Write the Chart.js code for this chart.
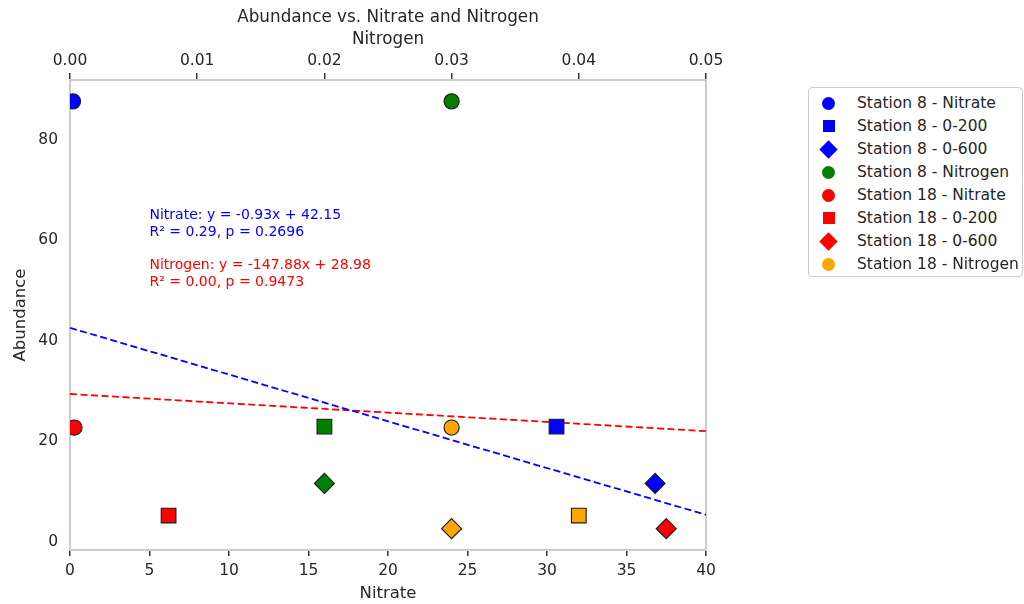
<!DOCTYPE html>
<html>
<head>
<meta charset="utf-8">
<script src="https://cdn.jsdelivr.net/npm/chart.js@4.4.1/dist/chart.umd.min.js"></script>
<style>
  html, body { margin: 0; padding: 0; background: #fff; }
  #wrap { position: relative; width: 1024px; height: 604px; font-family: "DejaVu Sans", sans-serif; }
  #wrap canvas { position: absolute; left: 0; top: 0; }
  #legend {
    position: absolute; left: 808px; top: 87px; width: 215px; height: 190px;
    border: 1px solid #cccccc; border-radius: 4px; background: #fff; box-sizing: border-box;
    color: #262626; font-size: 15.5px;
  }
  .row { position: absolute; left: 0; height: 23px; line-height: 23px; white-space: nowrap; }
  .row span { position: absolute; left: 48px; top: 0; }
  .mk { position: absolute; }
</style>
</head>
<body>
<div id="wrap">
  <canvas id="chart" width="1024" height="604"></canvas>
  <div id="legend"></div>
</div>
<script>
// -----------------------------
// Data
// -----------------------------
// legend series (one per legend row)
const seriesLabels = [
  'Station 8 - Nitrate', 'Station 8 - 0-200', 'Station 8 - 0-600', 'Station 8 - Nitrogen',
  'Station 18 - Nitrate', 'Station 18 - 0-200', 'Station 18 - 0-600', 'Station 18 - Nitrogen'
];
const seriesColors = ['#0000ff', '#0000ff', '#0000ff', '#008000', '#ff0000', '#ff0000', '#ff0000', '#ffa500'];
const seriesShapes = ['circle', 'rect', 'rectRot', 'circle', 'circle', 'rect', 'rectRot', 'circle'];
const seriesAxes = ['x', 'x', 'x', 'x2', 'x', 'x', 'x', 'x2'];
const seriesX = [0.19, 30.6, 36.8, 0.03, 0.28, 6.2, 37.5, 0.03];
const seriesY = [87.2, 22.5, 11.2, 87.2, 22.3, 4.8, 2.2, 22.3];

// nitrogen depth points (plotted on the Nitrogen axis, not in the legend)
const extraColors = ['#008000', '#008000', '#ffa500', '#ffa500'];
const extraShapes = ['rect', 'rectRot', 'rect', 'rectRot'];
const extraX = [0.02, 0.02, 0.04, 0.03];
const extraY = [22.5, 11.2, 4.8, 2.2];

// regression fits
const nitrateFit = { slope: -0.93, intercept: 42.15, range: [0, 40] };
const nitrogenFit = { slope: -147.88, intercept: 28.98, range: [0, 0.05] };
const nitrateText = ['Nitrate: y = -0.93x + 42.15', 'R² = 0.29, p = 0.2696'];
const nitrogenText = ['Nitrogen: y = -147.88x + 28.98', 'R² = 0.00, p = 0.9473'];

// ticks
const xTicks = [0, 5, 10, 15, 20, 25, 30, 35, 40];
const x2Ticks = [0, 0.01, 0.02, 0.03, 0.04, 0.05];
const yTicks = [0, 20, 40, 60, 80];

const textColor = '#262626';
const font = 'DejaVu Sans';

// marker radius per shape (Chart.js units)
const shapeRadius = { circle: 7.6, rect: 10.4, rectRot: 10 };

// -----------------------------
// Datasets
// -----------------------------
function scatterSet(label, x, y, axis, color, shape) {
  return {
    type: 'scatter',
    label,
    data: [{ x, y }],
    xAxisID: axis,
    backgroundColor: color,
    borderColor: '#1a1a1a',
    borderWidth: 1.1,
    pointStyle: shape,
    pointRadius: shapeRadius[shape],
    pointHoverRadius: shapeRadius[shape],
    order: 1
  };
}

const datasets = seriesLabels.map((label, i) =>
  scatterSet(label, seriesX[i], seriesY[i], seriesAxes[i], seriesColors[i], seriesShapes[i]));

extraX.forEach((x, i) => {
  datasets.push(scatterSet('nitrogen ' + extraShapes[i], x, extraY[i], 'x2', extraColors[i], extraShapes[i]));
});

function fitLine(fit) {
  return fit.range.map(x => ({ x, y: fit.slope * x + fit.intercept }));
}

datasets.push({
  type: 'line', label: 'nitrate fit', data: fitLine(nitrateFit), xAxisID: 'x',
  borderColor: '#0000ff', borderWidth: 1.8, borderDash: [7, 3.5], pointRadius: 0, fill: false, order: 2
});
datasets.push({
  type: 'line', label: 'nitrogen fit', data: fitLine(nitrogenFit), xAxisID: 'x2',
  borderColor: '#ff0000', borderWidth: 1.8, borderDash: [7, 3.5], pointRadius: 0, fill: false, order: 2
});

// -----------------------------
// Clip marks to the plot area (like matplotlib)
// -----------------------------
const plotClip = {
  id: 'plotClip',
  beforeDatasetsDraw(chart) {
    const a = chart.chartArea;
    chart.ctx.save();
    chart.ctx.beginPath();
    chart.ctx.rect(a.left, a.top, a.right - a.left, a.bottom - a.top);
    chart.ctx.clip();
  },
  afterDatasetsDraw(chart) {
    chart.ctx.restore();
  }
};

// -----------------------------
// Annotation text plugin
// -----------------------------
const annotations = {
  id: 'annotations',
  afterDatasetsDraw(chart) {
    const { ctx, scales } = chart;
    const x = scales.x.getPixelForValue(5);
    const blocks = [
      { lines: nitrateText, color: '#0000ff', y: 66 },
      { lines: nitrogenText, color: '#ff0000', y: 56 }
    ];
    ctx.save();
    ctx.font = '14px "' + font + '"';
    ctx.textAlign = 'left';
    ctx.textBaseline = 'top';
    blocks.forEach(b => {
      const top = scales.y.getPixelForValue(b.y);
      ctx.fillStyle = b.color;
      b.lines.forEach((t, k) => ctx.fillText(t, x, top + k * 17));
    });
    ctx.restore();
  }
};

function setTicks(list) {
  return scale => { scale.ticks = list.map(v => ({ value: v })); };
}

new Chart(document.getElementById('chart'), {
  data: { datasets },
  options: {
    responsive: false,
    animation: false,
    layout: { padding: { left: 0, right: 318, top: 0, bottom: 0 } },
    plugins: {
      legend: { display: false },
      tooltip: { enabled: false }
    },
    scales: {
      x: {
        type: 'linear', position: 'bottom', min: 0, max: 40,
        afterBuildTicks: setTicks(xTicks),
        afterFit: s => { s.height = 54; },
        border: { color: '#cccccc', width: 2 },
        grid: { drawOnChartArea: false, drawTicks: true, tickLength: 6, color: '#333333', lineWidth: 1.5 },
        ticks: { color: textColor, font: { family: font, size: 15.5 }, padding: 6, maxRotation: 0 },
        title: { display: true, text: 'Nitrate', color: textColor, font: { family: font, size: 16.5 }, padding: { top: 0, bottom: 0 } }
      },
      x2: {
        type: 'linear', position: 'top', min: 0, max: 0.05,
        afterBuildTicks: setTicks(x2Ticks),
        afterFit: s => { s.height = 80; },
        border: { color: '#cccccc', width: 2 },
        grid: { drawOnChartArea: false, drawTicks: true, tickLength: 7, color: '#333333', lineWidth: 1.5 },
        ticks: { color: textColor, font: { family: font, size: 15.5 }, padding: 3, maxRotation: 0,
          callback: v => v.toFixed(2) },
        title: {
          display: true,
          text: ['Abundance vs. Nitrate and Nitrogen', 'Nitrogen'],
          color: textColor,
          font: { family: font, size: 16.8, lineHeight: 1.3 },
          padding: { top: 7, bottom: 0 }
        }
      },
      y: {
        type: 'linear', position: 'left', min: -2.05, max: 91.45,
        afterBuildTicks: setTicks(yTicks),
        afterFit: s => { s.width = 70; },
        border: { color: '#cccccc', width: 2 },
        grid: { display: true, drawOnChartArea: false, drawTicks: false },
        ticks: { color: textColor, font: { family: font, size: 15.5 }, padding: 12, labelOffset: 2 },
        title: { display: true, text: 'Abundance', color: textColor, font: { family: font, size: 16.5 }, padding: { top: 11, bottom: 0 } }
      },
      yRight: {
        type: 'linear', position: 'right', min: -2.05, max: 91.45,
        afterFit: s => { s.width = 0; },
        border: { color: '#cccccc', width: 2 },
        grid: { display: true, drawOnChartArea: false, drawTicks: false },
        ticks: { display: false }
      }
    }
  },
  plugins: [plotClip, annotations]
});

// -----------------------------
// Legend (outside plot, right side)
// -----------------------------
const legendEl = document.getElementById('legend');
const legendMarker = { circle: 'width:13px;height:13px;border-radius:50%;left:13px;top:5px;',
  rect: 'width:12px;height:12px;left:13.5px;top:5.5px;',
  rectRot: 'width:13px;height:13px;left:13px;top:5px;transform:rotate(45deg);' };
seriesLabels.forEach((label, i) => {
  const row = document.createElement('div');
  row.className = 'row';
  row.style.top = (3.5 + i * 23) + 'px';
  row.innerHTML = '<div class="mk" style="background:' + seriesColors[i] + ';' + legendMarker[seriesShapes[i]] + '"></div><span>' + label + '</span>';
  legendEl.appendChild(row);
});
</script>
</body>
</html>
